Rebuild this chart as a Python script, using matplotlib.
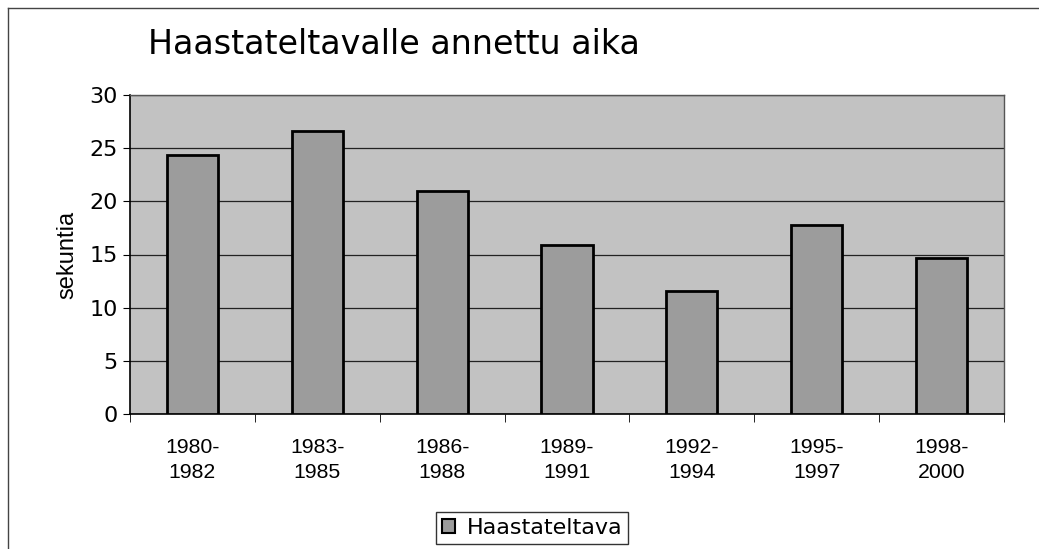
import numpy as np
import matplotlib
matplotlib.use('Agg')
from matplotlib import pyplot as plt
from matplotlib import lines as mlines
from matplotlib import patches as mpatches

periods = ['1980-\n1982', '1983-\n1985', '1986-\n1988', '1989-\n1991',
           '1992-\n1994', '1995-\n1997', '1998-\n2000']
seconds = [24.4, 26.6, 21.0, 15.9, 11.6, 17.8, 14.7]
series_name = 'Haastateltava'
title = 'Haastateltavalle annettu aika'
ylabel = 'sekuntia'

W, H = 1039, 549

def main():

    fig = plt.figure(figsize=(W / 100, H / 100), dpi=100)
    fig.patch.set_facecolor('white')

    # Outer chart border (scanned frame, left and top visible)
    fig.add_artist(mlines.Line2D([8 / W, 8 / W], [0, 1 - 8 / H],
                                 color='#444444', lw=1.0))
    fig.add_artist(mlines.Line2D([8 / W, 1], [1 - 8 / H, 1 - 8 / H],
                                 color='#444444', lw=1.0))

    # Plot area
    ax = fig.add_axes([130 / W, (H - 414) / H, 874 / W, 319 / H])
    ax.set_facecolor('#c2c2c2')
    x = np.arange(len(periods))
    ax.bar(x, seconds, width=0.41, color='#9c9c9c', edgecolor='black',
           linewidth=2.0, zorder=3, label=series_name)
    ax.set_xlim(-0.5, len(periods) - 0.5)
    ax.set_ylim(0, 30)
    ax.set_yticks(np.arange(0, 31, 5))
    ax.yaxis.grid(True, color='#222222', lw=0.9, zorder=1)
    ax.set_axisbelow(True)

    ax.set_xticks(x)
    ax.set_xticklabels(periods, family='Liberation Sans', fontsize=15.3,
                       linespacing=1.45)
    ax.tick_params(axis='x', length=0, pad=17)
    ax.set_xticks(np.arange(-0.5, len(periods)), minor=True)
    ax.tick_params(axis='x', which='minor', length=6, direction='out',
                   color='black')
    ax.tick_params(axis='y', length=5, direction='out', labelsize=16,
                   pad=4)
    for lab in ax.get_yticklabels():
        lab.set_family('DejaVu Sans')

    for side in ['left', 'bottom']:
        ax.spines[side].set_color('black')
        ax.spines[side].set_linewidth(1.2)
    for side in ['top', 'right']:
        ax.spines[side].set_color('#555555')
        ax.spines[side].set_linewidth(1.0)

    ax.set_ylabel(ylabel, family='Liberation Sans', fontsize=17, labelpad=8)

    fig.text(148 / W, 1 - 45 / H, title, family='DejaVu Sans', fontsize=24,
             ha='left', va='center')

    # Legend
    handle = mpatches.Patch(facecolor='#9c9c9c', edgecolor='black', lw=1.5)
    leg = fig.legend([handle], [series_name], loc='center',
                     bbox_to_anchor=(532 / W, 1 - 528 / H),
                     prop={'family': 'DejaVu Sans', 'size': 16},
                     frameon=True, fancybox=False, handlelength=0.6,
                     handleheight=0.6, handletextpad=0.5, borderpad=0.25)
    leg.get_frame().set_edgecolor('black')
    leg.get_frame().set_linewidth(1.0)

    fname = 'out.png'
    print('Writing %s' % (fname))
    fig.savefig(fname, dpi=100)
    plt.close()

if __name__ == '__main__': main()
